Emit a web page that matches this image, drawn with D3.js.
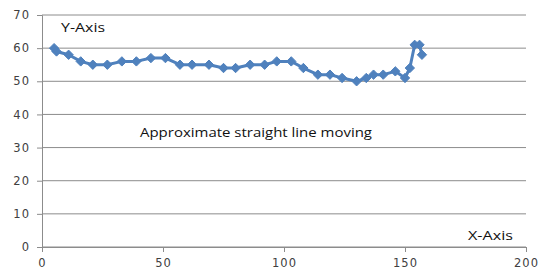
<!DOCTYPE html>
<html>
<head>
<meta charset="utf-8">
<script src="https://cdn.jsdelivr.net/npm/d3@7"></script>
<style>
  body { margin: 0; background: #fff; }
  text { font-family: "DejaVu Sans", Verdana, sans-serif; }
</style>
</head>
<body>
<div id="chart"></div>
<script>
// values
const xValues = [5, 6, 11, 16, 21, 27, 33, 39, 45, 51, 57, 62, 69, 75, 80, 86, 92, 97, 103, 108, 114, 119, 124, 130, 134, 137, 141, 146, 150, 152, 154, 156, 157];
const yValues = [60, 59, 58, 56, 55, 55, 56, 56, 57, 57, 55, 55, 55, 54, 54, 55, 55, 56, 56, 54, 52, 52, 51, 50, 51, 52, 52, 53, 51, 54, 61, 61, 58];
const xTicks = [0, 50, 100, 150, 200];
const yTicks = [0, 10, 20, 30, 40, 50, 60, 70];

const width = 541, height = 271;
const margin = {top: 15, right: 15, bottom: 24, left: 42};

const svg = d3.select('#chart')
    .append('svg')
    .attr('width', width)
    .attr('height', height);

const x = d3.scaleLinear().domain([0, 200]).range([margin.left, width - margin.right]);
const y = d3.scaleLinear().domain([0, 70]).range([height - margin.bottom, margin.top]);

// horizontal gridlines
svg.append('g')
    .selectAll('line')
    .data(yTicks)
    .enter()
    .append('line')
    .attr('x1', x(0))
    .attr('x2', x(200))
    .attr('y1', d => y(d))
    .attr('y2', d => y(d))
    .attr('stroke', '#8c8c8c')
    .attr('stroke-width', 1);

// y axis
const yAxis = svg.append('g')
    .attr('transform', 'translate(' + x(0) + ',0)')
    .call(d3.axisLeft(y).tickValues(yTicks).tickSize(5).tickPadding(7));
// x axis
const xAxis = svg.append('g')
    .attr('transform', 'translate(0,' + y(0) + ')')
    .call(d3.axisBottom(x).tickValues(xTicks).tickSize(5).tickPadding(7));

[yAxis, xAxis].forEach(ax => {
    ax.select('.domain').attr('stroke', '#8c8c8c');
    ax.selectAll('.tick line').attr('stroke', '#8c8c8c');
    ax.selectAll('.tick text')
        .attr('fill', '#404040')
        .style('font-size', '11.5px')
        .style('letter-spacing', '1px')
        .style('font-family', '"DejaVu Sans", Verdana, sans-serif');
});

const points = xValues.map((d, i) => ({x: d, y: yValues[i]}));

// the series line
svg.append('path')
    .datum(points)
    .attr('fill', 'none')
    .attr('stroke', '#4f81bd')
    .attr('stroke-width', 3)
    .attr('stroke-linejoin', 'round')
    .attr('d', d3.line().x(d => x(d.x)).y(d => y(d.y)));

// diamond markers
const diamond = d3.symbol().type(d3.symbolDiamond2).size(56);
svg.append('g')
    .selectAll('path')
    .data(points)
    .enter()
    .append('path')
    .attr('d', diamond)
    .attr('transform', d => 'translate(' + x(d.x) + ',' + y(d.y) + ')')
    .attr('fill', '#4f81bd')
    .attr('stroke', '#4f81bd')
    .attr('stroke-width', 1);

// annotations (widths matched to the reference)
function label(txt, px, py, len) {
    svg.append('text')
        .attr('x', px)
        .attr('y', py)
        .attr('textLength', len)
        .attr('lengthAdjust', 'spacingAndGlyphs')
        .style('font-family', '"Open Sans", "Liberation Sans", sans-serif')
        .style('font-size', '13px')
        .attr('fill', '#111')
        .text(txt);
}
label('Y-Axis', 61, 32, 44);
label('Approximate straight line moving', 140, 137, 232);
label('X-Axis', 468, 240, 45);
</script>
</body>
</html>
